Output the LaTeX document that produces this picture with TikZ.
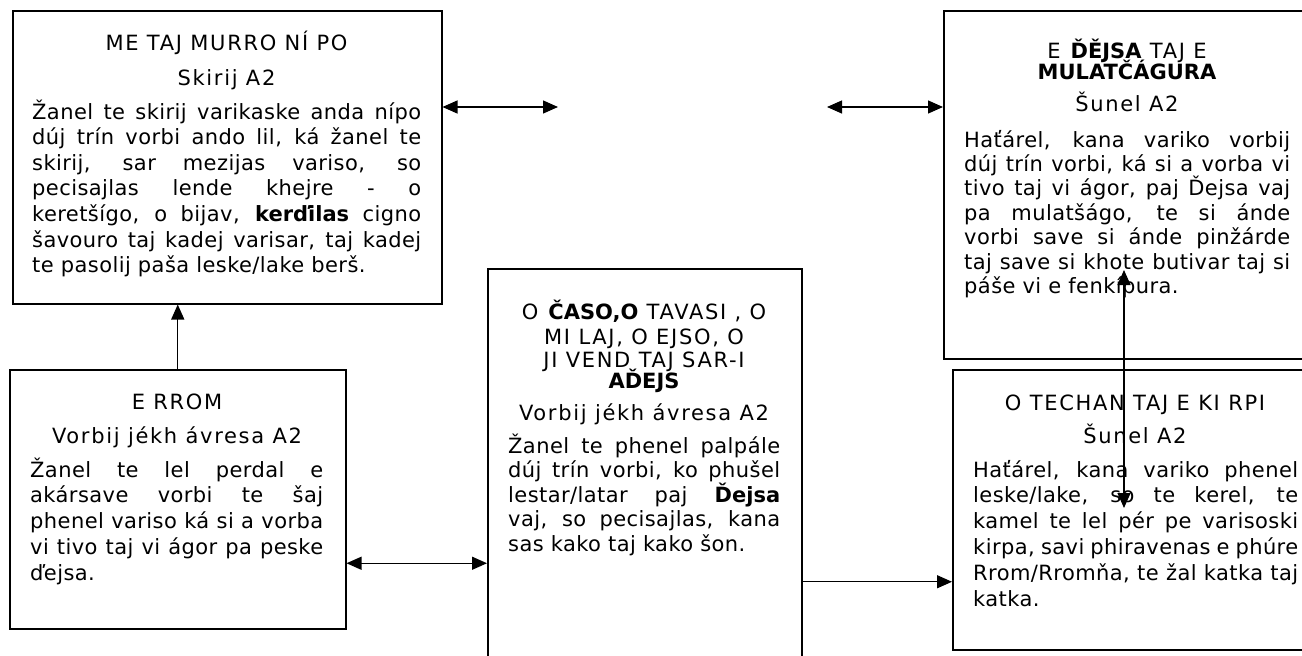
\documentclass[tikz,border=0pt]{standalone}
\usepackage{fontspec}
\setmainfont{DejaVu Sans}
\newfontfamily\headfont[LetterSpace=8,BoldFeatures={LetterSpace=0}]{DejaVu Sans}
\newfontfamily\bodyfont[LetterSpace=2,BoldFeatures={LetterSpace=0}]{DejaVu Sans}
\usetikzlibrary{arrows.meta}
\hyphenpenalty=10000
\exhyphenpenalty=10000

\begin{document}
\begin{tikzpicture}[x=1pt,y=-1pt,
        box style/.style={draw,line width=1.5pt,inner sep=0pt,anchor=north west},
        head style/.style={inner sep=0pt,anchor=base,align=center,font=\headfont\fontsize{21}{25}\selectfont},
        body style/.style={inner sep=0pt,anchor=base west,align=justify,font=\bodyfont\fontsize{21}{#1}\selectfont},
        arrow style/.style={line width=1.3pt,-{Triangle[length=15pt,width=13pt]}},
        double style/.style={line width=1.3pt,{Triangle[length=15pt,width=13pt]}-{Triangle[length=15pt,width=13pt]}}]
        \useasboundingbox (0,0) rectangle (1302,656);
        % the five boxes
        \node[box style,minimum width=429pt,minimum height=293pt] (nipo) at (12,10) {};
        \node[box style,minimum width=358.5pt,minimum height=348pt] (dejsa) at (943,10) {};
        \node[box style,minimum width=336pt,minimum height=259pt] (rrom) at (9,369) {};
        \node[box style,minimum width=314pt,minimum height=394pt] (caso) at (487,268) {};
        \node[box style,minimum width=349.5pt,minimum height=280pt] (techan) at (952,369) {};
        % ME TAJ MURRO NIPO
        \node[head style] (nipo-t) at (226.5,50) {ME TAJ MURRO NÍ PO};
        \node[head style] (nipo-s) at (226.5,85) {Skirij A2};
        \node[body style=25.6pt,text width=389pt] (nipo-b) at (32,119) {Žanel te skirij varikaske anda nípo\linebreak
                dúj trín vorbi ando lil, ká žanel te\linebreak
                skirij, sar mezijas variso, so\linebreak
                pecisajlas lende khejre - o\linebreak
                keretšígo, o bijav, \textbf{kerďilas} cigno\linebreak
                šavouro taj kadej varisar, taj kadej\linebreak
                te pasolij paša leske/lake berš.};
        % E DEJSA
        \node[head style] (dejsa-t) at (1127,79) {E \textbf{ĎĚJSA} TAJ E\\[-4pt]\textbf{MULATČÁGURA}};
        \node[head style] (dejsa-s) at (1127,111) {Šunel A2};
        \node[body style=24.4pt,text width=326pt] (dejsa-b) at (964,147) {Haťárel, kana variko vorbij\linebreak
                dúj trín vorbi, ká si a vorba vi\linebreak
                tivo taj vi ágor, paj Ďejsa vaj\linebreak
                pa mulatšágo, te si ánde\linebreak
                vorbi save si ánde pinžárde\linebreak
                taj save si khote butivar taj si\linebreak
                páše vi e fenkípura.};
        % E RROM
        \node[head style] (rrom-t) at (177,409) {E RROM};
        \node[head style] (rrom-s) at (177,443) {Vorbij jékh ávresa A2};
        \node[body style=25.75pt,text width=293pt] (rrom-b) at (30,477) {Žanel te lel perdal e\linebreak
                akársave vorbi te šaj\linebreak
                phenel variso ká si a vorba\linebreak
                vi tivo taj vi ágor pa peske\linebreak
                ďejsa.};
        % O CASO
        \node[head style] (caso-t) at (644,388) {O \textbf{ČASO,O} TAVASI , O\\MI LAJ, O EJSO, O\\[-2pt]JI VEND TAJ SAR-I\\[-4pt]\textbf{AĎEJS}};
        \node[head style] (caso-s) at (644,420) {Vorbij jékh ávresa A2};
        \node[body style=24.5pt,text width=272pt] (caso-b) at (508,453) {Žanel te phenel palpále\linebreak
                dúj trín vorbi, ko phušel\linebreak
                lestar/latar paj \textbf{Ďejsa}\linebreak
                vaj, so pecisajlas, kana\linebreak
                sas kako taj kako šon.};
        % O TECHAN
        \node[head style] (techan-t) at (1135,410) {O TECHAN TAJ E KI RPI};
        \node[head style] (techan-s) at (1135,443) {Šunel A2};
        \node[body style=25.8pt,text width=325pt] (techan-b) at (973,477) {Haťárel, kana variko phenel\linebreak
                leske/lake, so te kerel, te\linebreak
                kamel te lel pér pe varisoski\linebreak
                kirpa, savi phiravenas e phúre\linebreak
                Rrom/Rromňa, te žal katka taj\linebreak
                katka.};
        % connectors
        \coordinate (gapL) at (558,107);
        \coordinate (gapR) at (827,107);
        \coordinate (vtop) at (1124,270);
        \coordinate (vbot) at (1124,508);
        \draw[arrow style] (rrom.north) -- (rrom.north |- nipo.south);
        \draw[double style] (nipo.east |- gapL) -- (gapL);
        \draw[double style] (gapR) -- (dejsa.west |- gapR);
        \draw[double style] ([yshift=-64pt]rrom.east) -- ([yshift=-64pt]rrom.east -| caso.west);
        \draw[arrow style] ([yshift=-72pt]techan.west -| caso.east) -- ([yshift=-72pt]techan.west);
        \draw[double style] (vtop) -- (vbot);
\end{tikzpicture}
\end{document}
